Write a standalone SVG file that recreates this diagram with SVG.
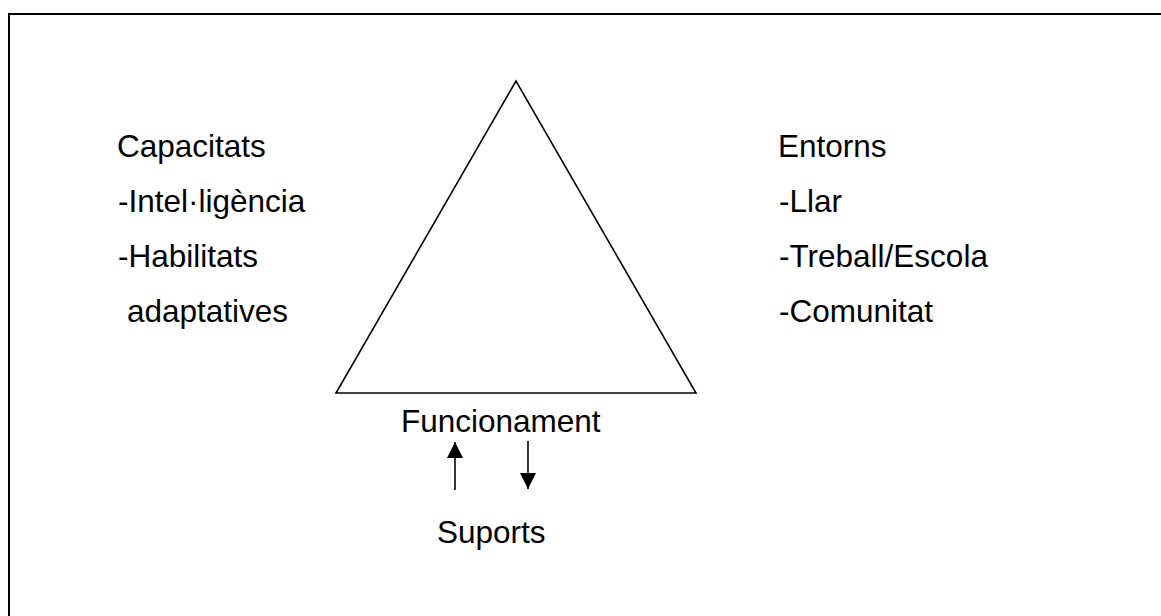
<svg xmlns="http://www.w3.org/2000/svg" width="1161" height="616" viewBox="0 0 1161 616">
  <defs>
    <style>
      .lbl { font-family: "Liberation Sans", Arial, sans-serif; font-size: 31.5px; fill: #000; }
      .edge { stroke: #000; stroke-width: 1.6; fill: none; }
    </style>
    <marker id="head" viewBox="0 0 10 10" refX="10" refY="5" markerWidth="16" markerHeight="16" markerUnits="userSpaceOnUse" orient="auto">
      <path d="M0,0 L10,5 L0,10 Z" fill="#000"/>
    </marker>
  </defs>
  <rect width="1161" height="616" fill="#fff"/>
  <!-- outer frame: only top and left edges fall inside the canvas -->
  <path d="M9,616 V14 H1161" stroke="#000" stroke-width="2" fill="none"/>

  <g id="triangle">
    <polygon points="516,81 336,393 696,393" fill="none" stroke="#000" stroke-width="1.6" stroke-linejoin="miter"/>
  </g>

  <g id="capacitats">
    <text class="lbl" x="117" y="157">Capacitats</text>
    <text class="lbl" x="118" y="212">-Intel·ligència</text>
    <text class="lbl" x="118" y="267">-Habilitats</text>
    <text class="lbl" x="127" y="322">adaptatives</text>
  </g>

  <g id="entorns">
    <text class="lbl" x="778" y="157">Entorns</text>
    <text class="lbl" x="779" y="212">-Llar</text>
    <text class="lbl" x="779" y="267">-Treball/Escola</text>
    <text class="lbl" x="779" y="322">-Comunitat</text>
  </g>

  <g id="funcionament">
    <text class="lbl" x="401" y="432">Funcionament</text>
  </g>

  <g id="suports">
    <text class="lbl" x="437" y="543">Suports</text>
  </g>

  <g id="connectors">
    <line class="edge" x1="455" y1="490" x2="455" y2="442" marker-end="url(#head)"/>
    <line class="edge" x1="528" y1="441" x2="528" y2="489" marker-end="url(#head)"/>
  </g>
</svg>
